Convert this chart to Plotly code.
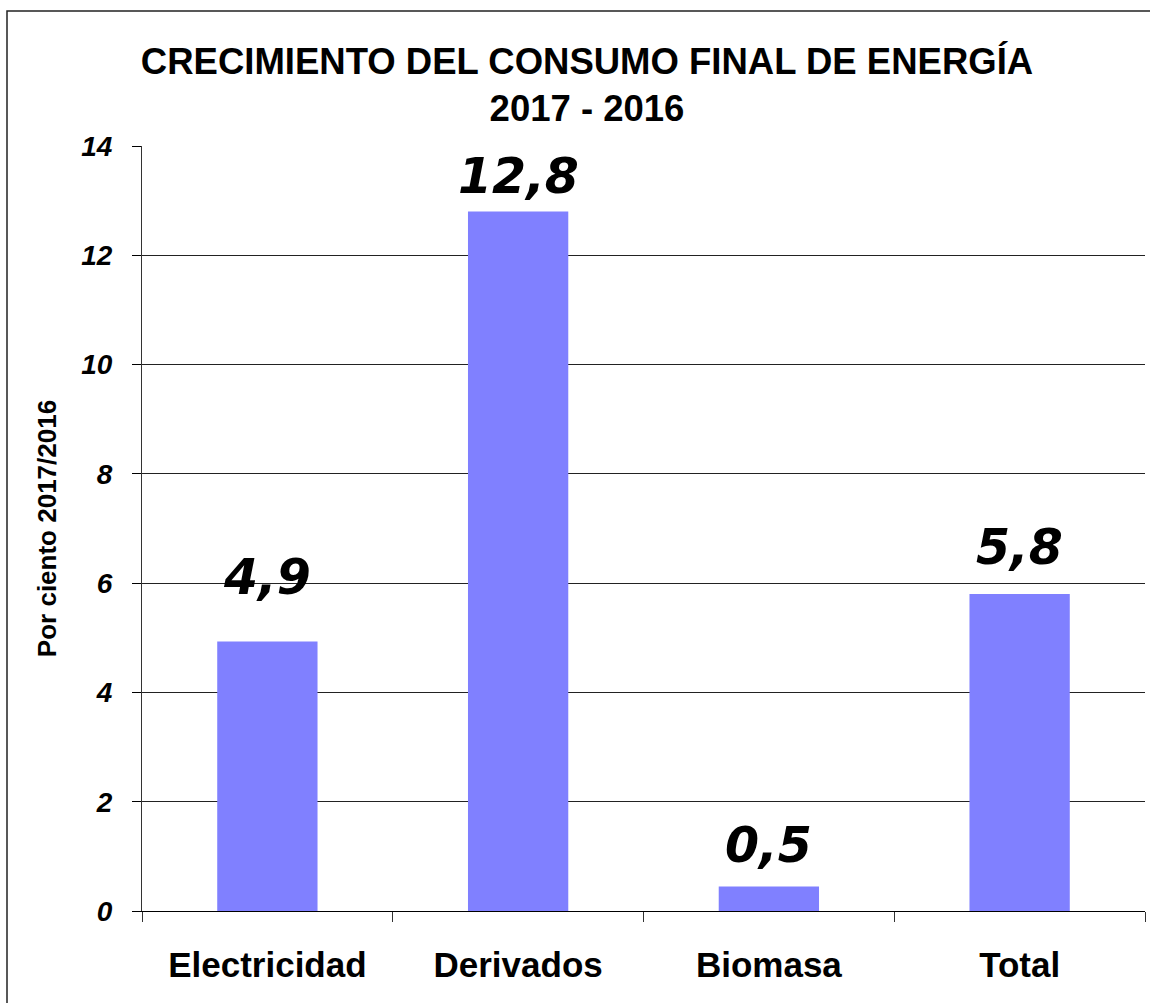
import plotly.graph_objects as go

categories = ["Electricidad", "Derivados", "Biomasa", "Total"]
values = [4.93, 12.8, 0.45, 5.8]
value_labels = ["4,9", "12,8", "0,5", "5,8"]
y_ticks = [0, 2, 4, 6, 8, 10, 12, 14]

# style: extra vertical gap (px) of each data label above its bar
label_gap = [44, 15, 20, 26]

fig = go.Figure()
fig.add_trace(go.Bar(
    x=categories, y=values,
    marker=dict(color="#8080FF", line=dict(width=0)),
    hoverinfo="x+y",
))

for cat, v, lab, g in zip(categories, values, value_labels, label_gap):
    fig.add_annotation(
        x=cat, y=v, xref="x", yref="y", text=lab, showarrow=False,
        yanchor="bottom", yshift=g - 10,
        font=dict(family="DejaVu Sans", size=49, color="black",
                  weight="bold", style="italic"),
    )

fig.update_layout(
    width=1150, height=1003,
    paper_bgcolor="white", plot_bgcolor="white",
    margin=dict(l=142, r=5, t=146, b=92),
    bargap=0.6,
    showlegend=False,
    title=dict(
        text="CRECIMIENTO DEL CONSUMO FINAL DE ENERGÍA<br>2017 - 2016",
        x=(587 - 142) / 1003, xref="paper", xanchor="center",
        y=1 - 74 / 1003, yref="container", yanchor="middle",
        font=dict(family="Liberation Sans", size=36.5, color="black", weight="bold"),
    ),
    xaxis=dict(
        type="category",
        showline=True, linecolor="black", linewidth=1,
        ticks="outside", tickson="boundaries", ticklen=10, tickcolor="#333",
        showgrid=False,
        tickfont=dict(family="Liberation Sans", size=35, color="black", weight="bold"),
        ticklabelstandoff=23,
    ),
    yaxis=dict(
        range=[0, 14], tickvals=y_ticks, ticktext=[str(t) for t in y_ticks],
        showline=True, linecolor="#333", linewidth=1,
        ticks="outside", ticklen=9, tickcolor="black",
        showgrid=True, gridcolor="#222", gridwidth=1,
        zeroline=False,
        tickfont=dict(family="Liberation Sans", size=28, color="black",
                      weight="bold", style="italic"),
        ticklabelstandoff=14,
        title=dict(text="Por ciento 2017/2016", standoff=17,
                   font=dict(family="Liberation Sans", size=26, color="black",
                             weight="bold")),
    ),
    shapes=[dict(
        type="rect", xref="paper", yref="paper",
        x0=(7 - 142) / 1003, x1=1.2,
        y0=-0.3, y1=(911 - 11) / 765,
        line=dict(color="#222", width=1.5), fillcolor="rgba(0,0,0,0)",
        layer="below",
    )],
)

fig.write_html("out.html", config={"displayModeBar": False},
               post_script="document.body.style.margin='0';")
